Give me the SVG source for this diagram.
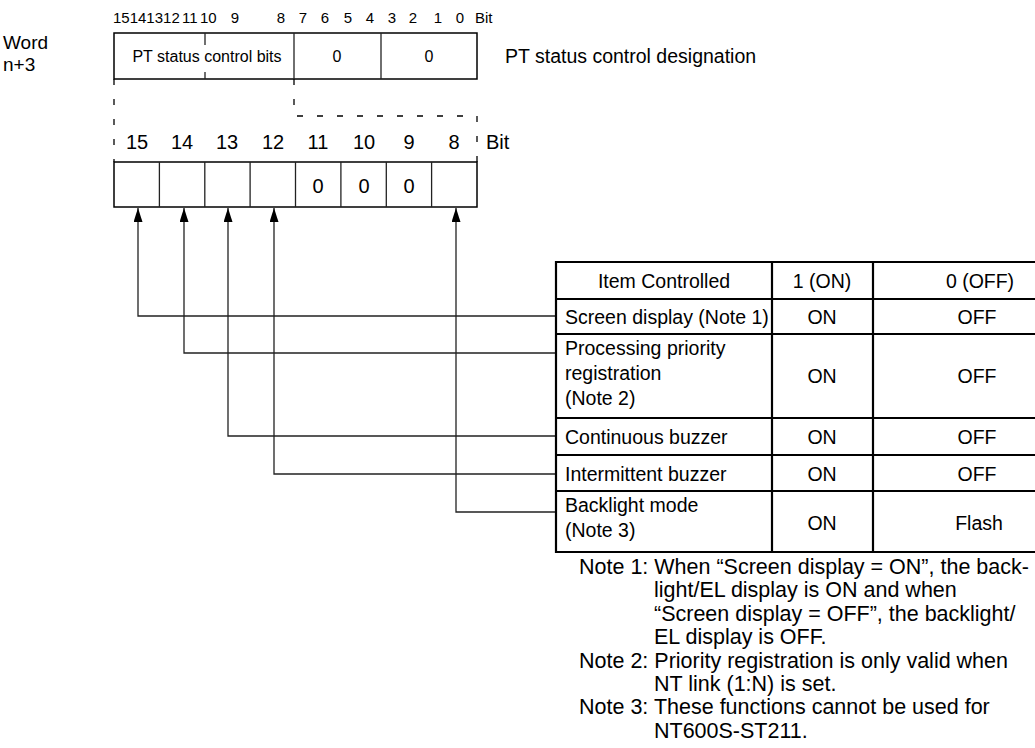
<svg xmlns="http://www.w3.org/2000/svg" width="1035" height="748" viewBox="0 0 1035 748">
<defs>
<style>
text{font-family:"Liberation Sans",Arial,sans-serif;fill:#000}
.s{font-size:15px}
.m{font-size:20px}
.t{font-size:19.5px}
.n{font-size:21.5px}
.c{text-anchor:middle}
.box{fill:#fff;stroke:#000;stroke-width:1.5}
.ln{fill:none;stroke:#222;stroke-width:1.3}
.dash{fill:none;stroke:#000;stroke-width:1.3;stroke-dasharray:6 14}
.tb{fill:none;stroke:#000;stroke-width:2.2}
</style>
<marker id="ah" markerUnits="userSpaceOnUse" markerWidth="14" markerHeight="9" refX="14" refY="4.5" orient="auto" viewBox="0 0 14 9">
<path d="M0,0 L14,4.5 L0,9 Z" fill="#000"/>
</marker>
</defs>

<g id="word-label">
<text x="3" y="49" style="font-size:19px">Word</text>
<text x="3" y="71" style="font-size:19px">n+3</text>
</g>

<g id="top-bit-numbers" class="s">
<text x="113" y="23">15141312</text>
<text x="182" y="23">11</text>
<text x="200" y="23">10</text>
<text x="235" y="23" class="c">9</text>
<text x="281" y="23" class="c">8</text>
<text x="303" y="23" class="c">7</text>
<text x="325" y="23" class="c">6</text>
<text x="348" y="23" class="c">5</text>
<text x="370" y="23" class="c">4</text>
<text x="392" y="23" class="c">3</text>
<text x="413" y="23" class="c">2</text>
<text x="438" y="23" class="c">1</text>
<text x="460" y="23" class="c">0</text>
<text x="475" y="23">Bit</text>
</g>

<g id="word-box">
<rect class="box" x="114" y="33" width="363" height="46"/>
<line class="ln" x1="294" y1="33" x2="294" y2="79"/>
<line class="ln" x1="381" y1="33" x2="381" y2="79"/>
<line class="ln" x1="205" y1="33" x2="205" y2="45"/>
<line class="ln" x1="205" y1="72" x2="205" y2="79"/>
<text class="c" x="207" y="62" style="font-size:16px">PT status control bits</text>
<text class="c" x="337" y="62" style="font-size:16px">0</text>
<text class="c" x="429" y="62" style="font-size:16px">0</text>
</g>

<g id="designation-label">
<text x="505" y="63" style="font-size:19.5px">PT status control designation</text>
</g>

<g id="expansion-dashes">
<path class="dash" d="M114,79 V162"/>
<path class="dash" d="M294,79 V116 H477 V162"/>
</g>

<g id="bit-labels" class="m c">
<text x="137" y="149">15</text>
<text x="182" y="149">14</text>
<text x="227" y="149">13</text>
<text x="273" y="149">12</text>
<text x="318" y="149">11</text>
<text x="364" y="149">10</text>
<text x="409" y="149">9</text>
<text x="454" y="149">8</text>
</g>
<text id="bit-word" class="m" x="486" y="149">Bit</text>

<g id="bit-cells">
<rect class="box" x="114" y="162" width="363" height="45"/>
<line class="ln" x1="159.4" y1="162" x2="159.4" y2="207"/>
<line class="ln" x1="204.8" y1="162" x2="204.8" y2="207"/>
<line class="ln" x1="250.1" y1="162" x2="250.1" y2="207"/>
<line class="ln" x1="295.5" y1="162" x2="295.5" y2="207"/>
<line class="ln" x1="340.9" y1="162" x2="340.9" y2="207"/>
<line class="ln" x1="386.3" y1="162" x2="386.3" y2="207"/>
<line class="ln" x1="431.6" y1="162" x2="431.6" y2="207"/>
<text class="m c" x="318" y="193">0</text>
<text class="m c" x="364" y="193">0</text>
<text class="m c" x="409" y="193">0</text>
</g>

<g id="connectors">
<path class="ln" d="M556,316 H138 V208" marker-end="url(#ah)"/>
<path class="ln" d="M556,353 H184 V208" marker-end="url(#ah)"/>
<path class="ln" d="M556,436 H228 V208" marker-end="url(#ah)"/>
<path class="ln" d="M556,474 H274 V208" marker-end="url(#ah)"/>
<path class="ln" d="M556,512 H456 V208" marker-end="url(#ah)"/>
</g>

<g id="table">
<path class="tb" d="M1090,262 H556 V552 H1090"/>
<line class="tb" x1="772" y1="262" x2="772" y2="552"/>
<line class="tb" x1="873" y1="262" x2="873" y2="552"/>
<line class="tb" x1="556" y1="299" x2="1090" y2="299"/>
<line class="tb" x1="556" y1="334" x2="1090" y2="334"/>
<line class="tb" x1="556" y1="418" x2="1090" y2="418"/>
<line class="tb" x1="556" y1="455" x2="1090" y2="455"/>
<line class="tb" x1="556" y1="491" x2="1090" y2="491"/>
<g class="t">
<text class="c" x="664" y="288">Item Controlled</text>
<text class="c" x="822" y="288">1 (ON)</text>
<text class="c" x="980" y="288">0 (OFF)</text>
<text x="565" y="324">Screen display (Note 1)</text>
<text class="c" x="822" y="324">ON</text>
<text class="c" x="977" y="324">OFF</text>
<text x="565" y="355">Processing priority</text>
<text x="565" y="380">registration</text>
<text x="565" y="405">(Note 2)</text>
<text class="c" x="822" y="383">ON</text>
<text class="c" x="977" y="383">OFF</text>
<text x="565" y="444">Continuous buzzer</text>
<text class="c" x="822" y="444">ON</text>
<text class="c" x="977" y="444">OFF</text>
<text x="565" y="481">Intermittent buzzer</text>
<text class="c" x="822" y="481">ON</text>
<text class="c" x="977" y="481">OFF</text>
<text x="565" y="512">Backlight mode</text>
<text x="565" y="537">(Note 3)</text>
<text class="c" x="822" y="530">ON</text>
<text class="c" x="979" y="530">Flash</text>
</g>
</g>

<g id="notes" class="n">
<text x="579" y="574">Note 1: When “Screen display = ON”, the back-</text>
<text x="654" y="597.4">light/EL display is ON and when</text>
<text x="654" y="620.8">“Screen display = OFF”, the backlight/</text>
<text x="654" y="644.2">EL display is OFF.</text>
<text x="579" y="667.6">Note 2: Priority registration is only valid when</text>
<text x="654" y="691">NT link (1:N) is set.</text>
<text x="579" y="714.4">Note 3: These functions cannot be used for</text>
<text x="654" y="737.8">NT600S-ST211.</text>
</g>
</svg>
